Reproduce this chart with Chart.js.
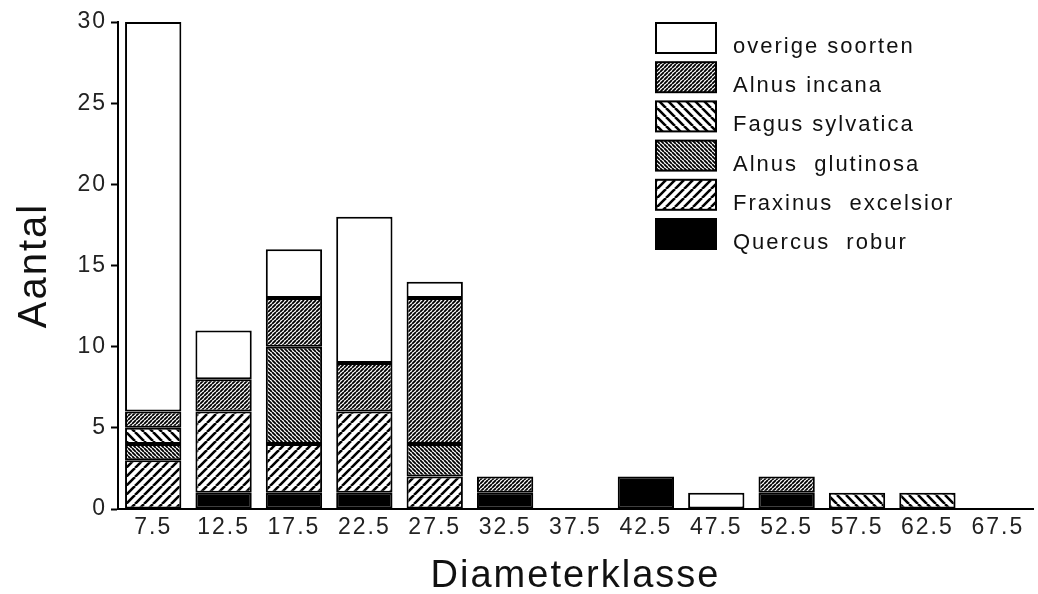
<!DOCTYPE html>
<html>
<head>
<meta charset="utf-8">
<script src="https://cdn.jsdelivr.net/npm/chart.js@4"></script>
<style>
  html, body { margin: 0; padding: 0; background: #fff; }
  #wrap { width: 1038px; height: 594px; }
</style>
</head>
<body>
<div id="wrap"><canvas id="diamChart" width="1038" height="594"></canvas></div>
<script>
// diameter classes and counts per species
const classes = ['7.5', '12.5', '17.5', '22.5', '27.5', '32.5', '37.5', '42.5', '47.5', '52.5', '57.5', '62.5', '67.5'];
const quercus   = [0, 1, 1, 1, 0, 1, 0, 2, 0, 1, 0, 0, 0];
const fraxinus  = [3, 5, 3, 5, 2, 0, 0, 0, 0, 0, 0, 0, 0];
const glutinosa = [1, 0, 6, 0, 2, 0, 0, 0, 0, 0, 0, 0, 0];
const fagus     = [1, 0, 0, 0, 0, 0, 0, 0, 0, 0, 1, 1, 0];
const incana    = [1, 2, 3, 3, 9, 1, 0, 0, 0, 1, 0, 0, 0];
const overige   = [24, 3, 3, 9, 1, 0, 0, 0, 1, 0, 0, 0, 0];
const yTicks = [0, 5, 10, 15, 20, 25, 30];

const FONT = '"Liberation Sans", Arial, sans-serif';

// hatch pattern helper: dir 1 = "///", dir -1 = "\\\"
function hatch(size, lw, dir) {
  const c = document.createElement('canvas');
  c.width = size; c.height = size;
  const g = c.getContext('2d');
  g.fillStyle = '#fff';
  g.fillRect(0, 0, size, size);
  g.strokeStyle = '#000';
  g.lineWidth = lw;
  g.beginPath();
  for (let k = -1; k <= 1; k++) {
    if (dir > 0) {
      g.moveTo(k * size, size); g.lineTo(k * size + size, 0);
    } else {
      g.moveTo(k * size, 0); g.lineTo(k * size + size, size);
    }
  }
  g.stroke();
  return g.createPattern(c, 'repeat');
}

const ctx = document.getElementById('diamChart').getContext('2d');

const fills = {
  quercus: '#000',
  fraxinus: hatch(9, 2.6, 1),
  glutinosa: hatch(4, 1.8, -1),
  fagus: hatch(9, 2.6, -1),
  incana: hatch(4, 1.8, 1),
  overige: '#fff'
};

function ds(label, values, fill) {
  return {
    label: label,
    data: values.map(v => v === 0 ? null : v),
    backgroundColor: fill,
    borderColor: '#000',
    borderWidth: 2,
    borderSkipped: false
  };
}

// the print type is wide, so space the letters out a little
const wideText = {
  id: 'wideText',
  beforeDraw(chart) { chart.ctx.letterSpacing = '2px'; }
};

// legend drawn as boxes in the top right, like the figure
const boxLegend = {
  id: 'boxLegend',
  afterDraw(chart) {
    const c = chart.ctx;
    const items = chart.data.datasets.slice().reverse();
    c.save();
    items.forEach((d, i) => {
      const top = 23 + i * 39.2;
      c.fillStyle = d.backgroundColor;
      c.fillRect(656, top, 60, 30);
      c.lineWidth = 2;
      c.strokeStyle = '#000';
      c.strokeRect(656, top, 60, 30);
      c.fillStyle = '#111';
      c.font = '22px ' + FONT;
      c.letterSpacing = '2px';
      c.textBaseline = 'middle';
      c.textAlign = 'left';
      c.fillText(d.label, 733, top + 24);
    });
    c.restore();
  }
};

new Chart(ctx, {
  type: 'bar',
  data: {
    labels: classes,
    datasets: [
      ds('Quercus  robur', quercus, fills.quercus),
      ds('Fraxinus  excelsior', fraxinus, fills.fraxinus),
      ds('Alnus  glutinosa', glutinosa, fills.glutinosa),
      ds('Fagus sylvatica', fagus, fills.fagus),
      ds('Alnus incana', incana, fills.incana),
      ds('overige soorten', overige, fills.overige)
    ]
  },
  options: {
    responsive: false,
    animation: false,
    layout: { padding: { top: 22, right: 5, left: 0, bottom: 0 } },
    datasets: { bar: { barPercentage: 0.8, categoryPercentage: 1 } },
    plugins: { legend: { display: false }, tooltip: { enabled: false } },
    scales: {
      x: {
        stacked: true,
        afterFit: s => { s.height = 85; },
        grid: { display: false, drawTicks: false },
        border: { display: true, color: '#000', width: 2 },
        ticks: { color: '#222', font: { family: FONT, size: 23 }, padding: 5, maxRotation: 0, autoSkip: false },
        title: { display: true, text: 'Diameterklasse', color: '#111', font: { family: FONT, size: 38, lineHeight: 1 }, padding: { top: 0, bottom: -2 } }
      },
      y: {
        stacked: true,
        min: 0,
        max: 30,
        afterFit: s => { s.width = 118; },
        afterBuildTicks: s => { s.ticks = yTicks.map(v => ({ value: v })); },
        grid: { drawOnChartArea: false, drawTicks: true, tickLength: 7, color: '#000', tickWidth: 2 },
        border: { display: true, color: '#000', width: 2 },
        ticks: { color: '#222', font: { family: FONT, size: 23 }, padding: 4 },
        title: { display: true, text: 'Aantal', color: '#111', font: { family: FONT, size: 40, lineHeight: 1.2 }, padding: { top: 11, bottom: 0 } }
      }
    }
  },
  plugins: [wideText, boxLegend]
});
</script>
</body>
</html>
